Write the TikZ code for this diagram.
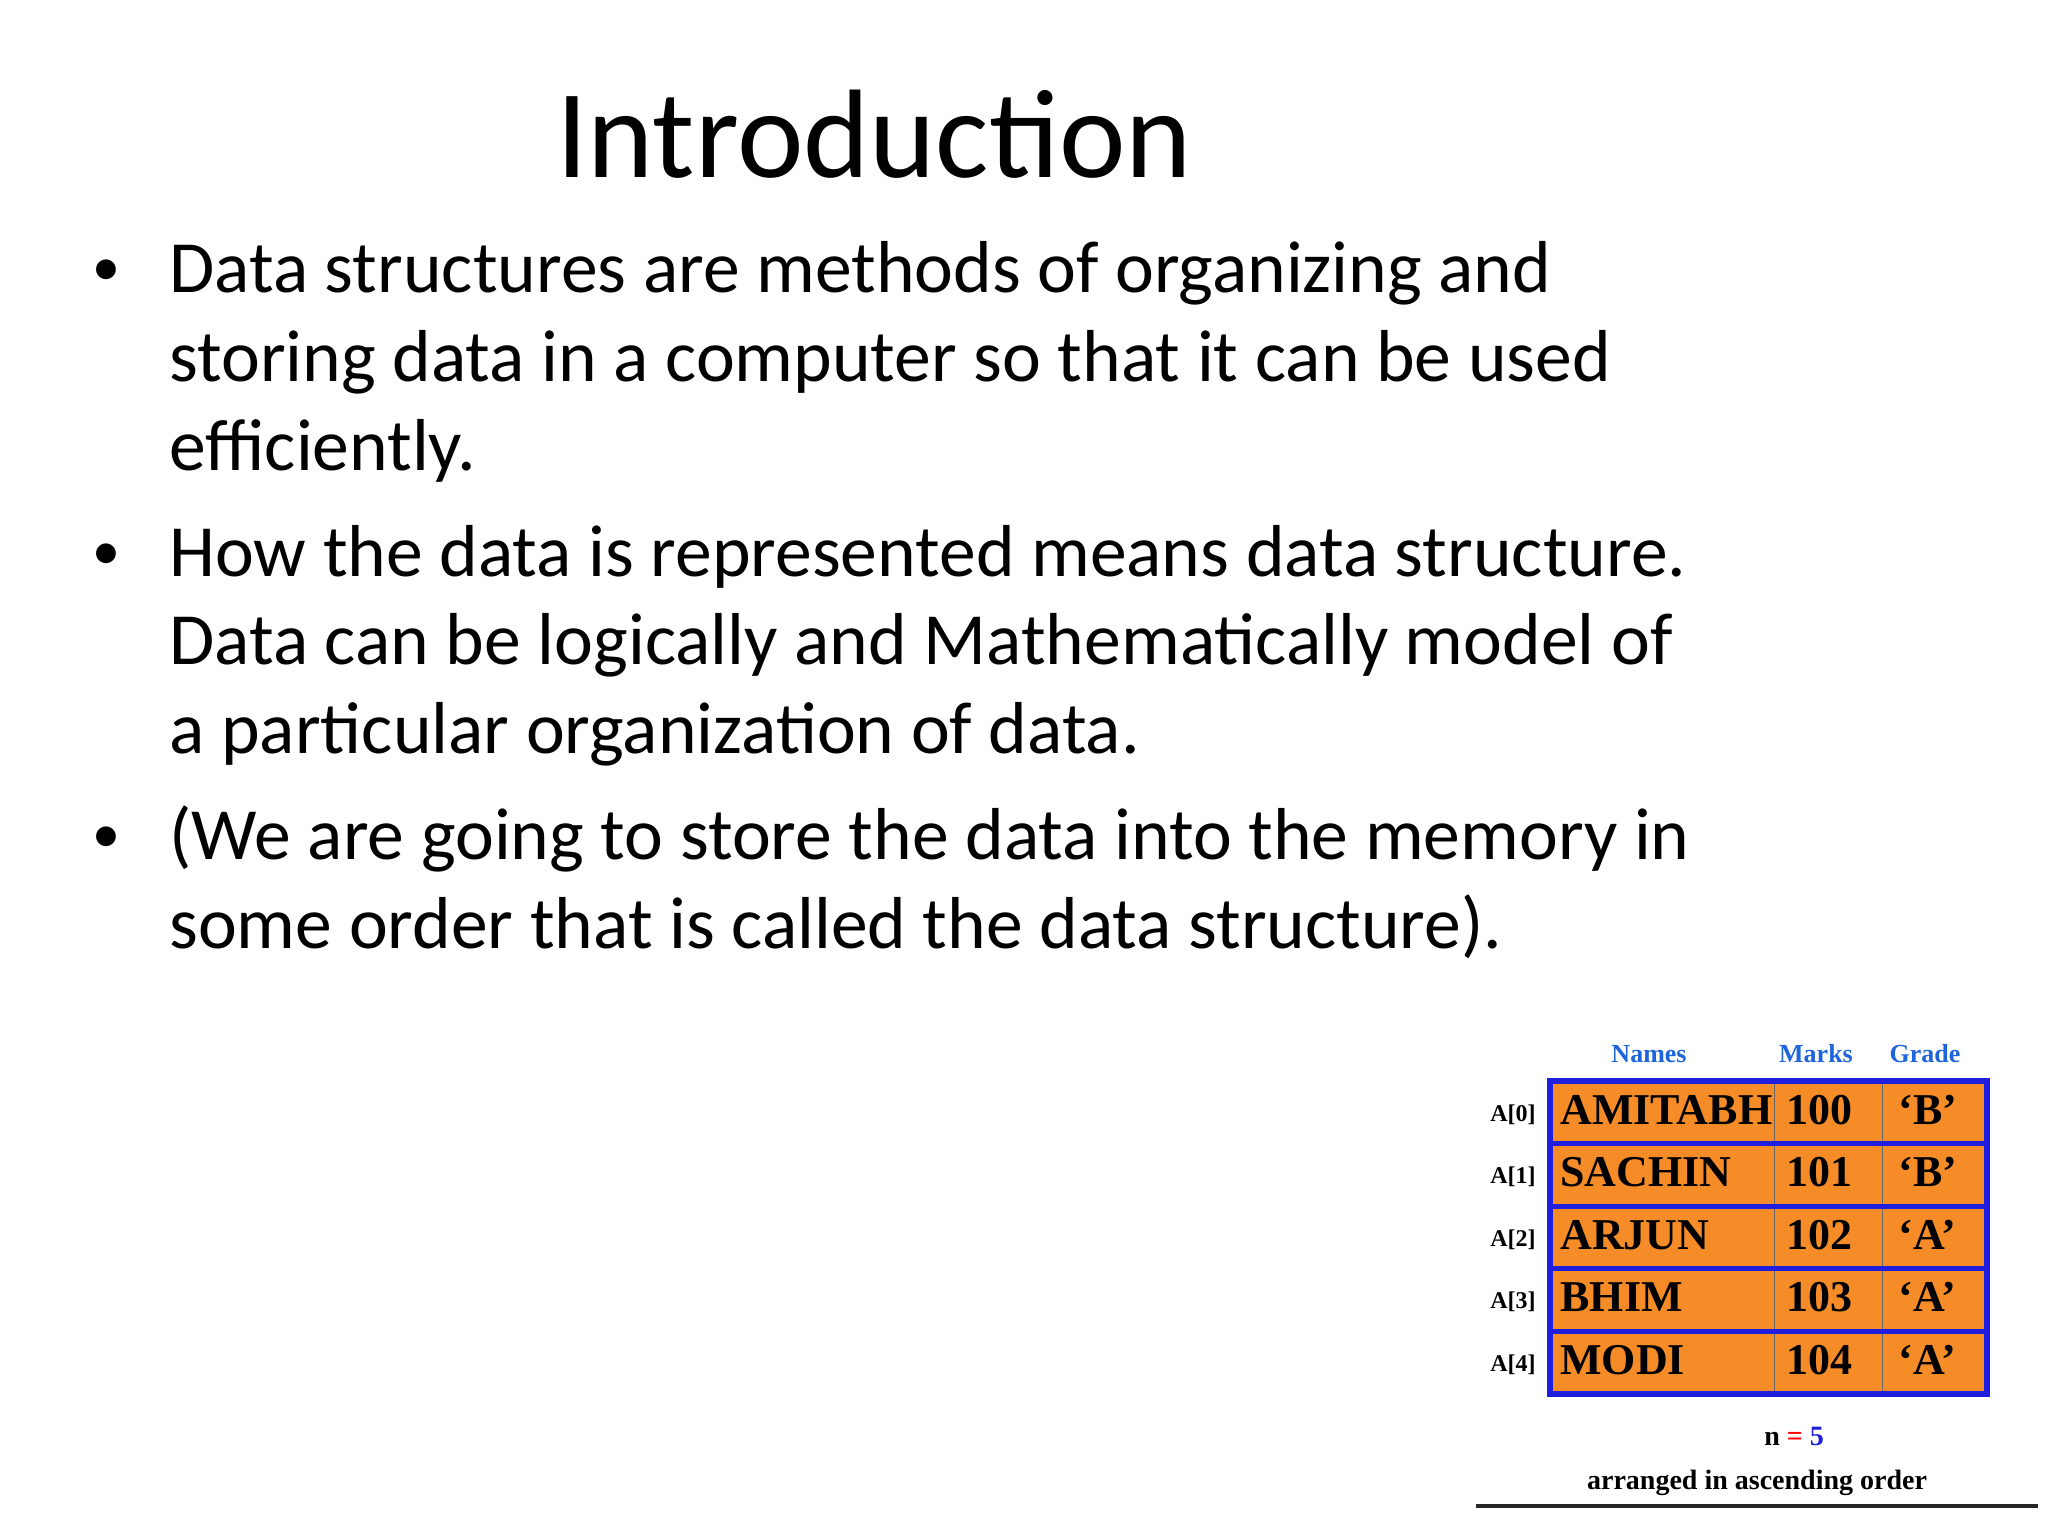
\documentclass[tikz,border=0pt]{standalone}
\usepackage{fontspec}
\setmainfont{Carlito}
\newfontfamily\tms{Liberation Serif}
\definecolor{org}{RGB}{245,140,40}
\definecolor{bl}{RGB}{30,30,220}
\definecolor{hb}{RGB}{30,100,220}
\begin{document}
\begin{tikzpicture}[x=0.5pt,y=-0.5pt,
  line/.style={anchor=base west,inner sep=0pt,font=\fontsize{36.8}{44}\selectfont},
  bul/.style={anchor=base,inner sep=0pt,font=\fontsize{28}{30}\selectfont},
  cell/.style={draw=black!60,fill=org,minimum height=31pt,inner sep=0pt,anchor=north west,line width=0.5pt},
  ct/.style={anchor=base west,inner sep=0pt,font=\tms\bfseries\fontsize{22}{24}\selectfont},
  idx/.style={anchor=base east,inner sep=0pt,font=\tms\bfseries\fontsize{12}{14}\selectfont},
  hd/.style={anchor=base,inner sep=0pt,text=hb,font=\tms\bfseries\fontsize{13}{14}\selectfont}]
\useasboundingbox (0,0) rectangle (2048,1536);
\node[anchor=base,inner sep=0pt,font=\fontsize{63}{70}\selectfont] (title) at (874,177) {Introduction};
\node[bul] (b1) at (106,285) {•};
\node[line] (l1) at (169,292) {Data structures are methods of organizing and};
\node[line] (l2) at (169,381) {storing data in a computer so that it can be used};
\node[line] (l3) at (169,470) {efficiently.};
\node[bul] (b2) at (106,569) {•};
\node[line] (l4) at (169,576) {How the data is represented means data structure.};
\node[line] (l5) at (169,664) {Data can be logically and Mathematically model of};
\node[line] (l6) at (169,753) {a particular organization of data.};
\node[bul] (b3) at (106,852) {•};
\node[line] (l7) at (169,859) {(We are going to store the data into the memory in};
\node[line] (l8) at (169,948) {some order that is called the data structure).};
% table
\node[hd] (h1) at (1649,1062) {Names};
\node[hd] (h2) at (1816,1062) {Marks};
\node[hd] (h3) at (1925,1062) {Grade};
\foreach \i/\n/\m/\g in {0/AMITABH/100/‘B’,1/SACHIN/101/‘B’,2/ARJUN/102/‘A’,3/BHIM/103/‘A’,4/MODI/104/‘A’}{
  \pgfmathsetmacro{\yy}{1081+62.6*\i}
  \node[cell,minimum width=112pt] (n\i) at (1550,\yy) {};
  \node[cell,minimum width=54pt] (m\i) at (1774,\yy) {};
  \node[cell,minimum width=52pt] (g\i) at (1882,\yy) {};
  \node[ct] (tn\i) at (1560,\yy+43) {\n};
  \node[ct] (tm\i) at (1786,\yy+43) {\m};
  \node[ct] (tg\i) at (1898,\yy+43) {\g};
  \node[idx] (a\i) at (1536,\yy+40) {A[\i]};
  \draw[bl,line width=2.5pt] (n\i.north west) rectangle (g\i.south east);
}
\draw[bl,line width=3pt] (n0.north west) rectangle (g4.south east);
\node[anchor=base,inner sep=0pt,font=\tms\bfseries\fontsize{14}{16}\selectfont] (nn) at (1794,1445) {n \textcolor{red}{=} \textcolor{bl}{5}};
\node[anchor=base,inner sep=0pt,font=\tms\bfseries\fontsize{14}{16}\selectfont] (arr) at (1757,1489) {arranged in ascending order};
\coordinate (la) at (1476,1506);
\coordinate (lb) at (2038,1506);
\draw[line width=2pt,black!85] (la) -- (lb);
\end{tikzpicture}
\end{document}
